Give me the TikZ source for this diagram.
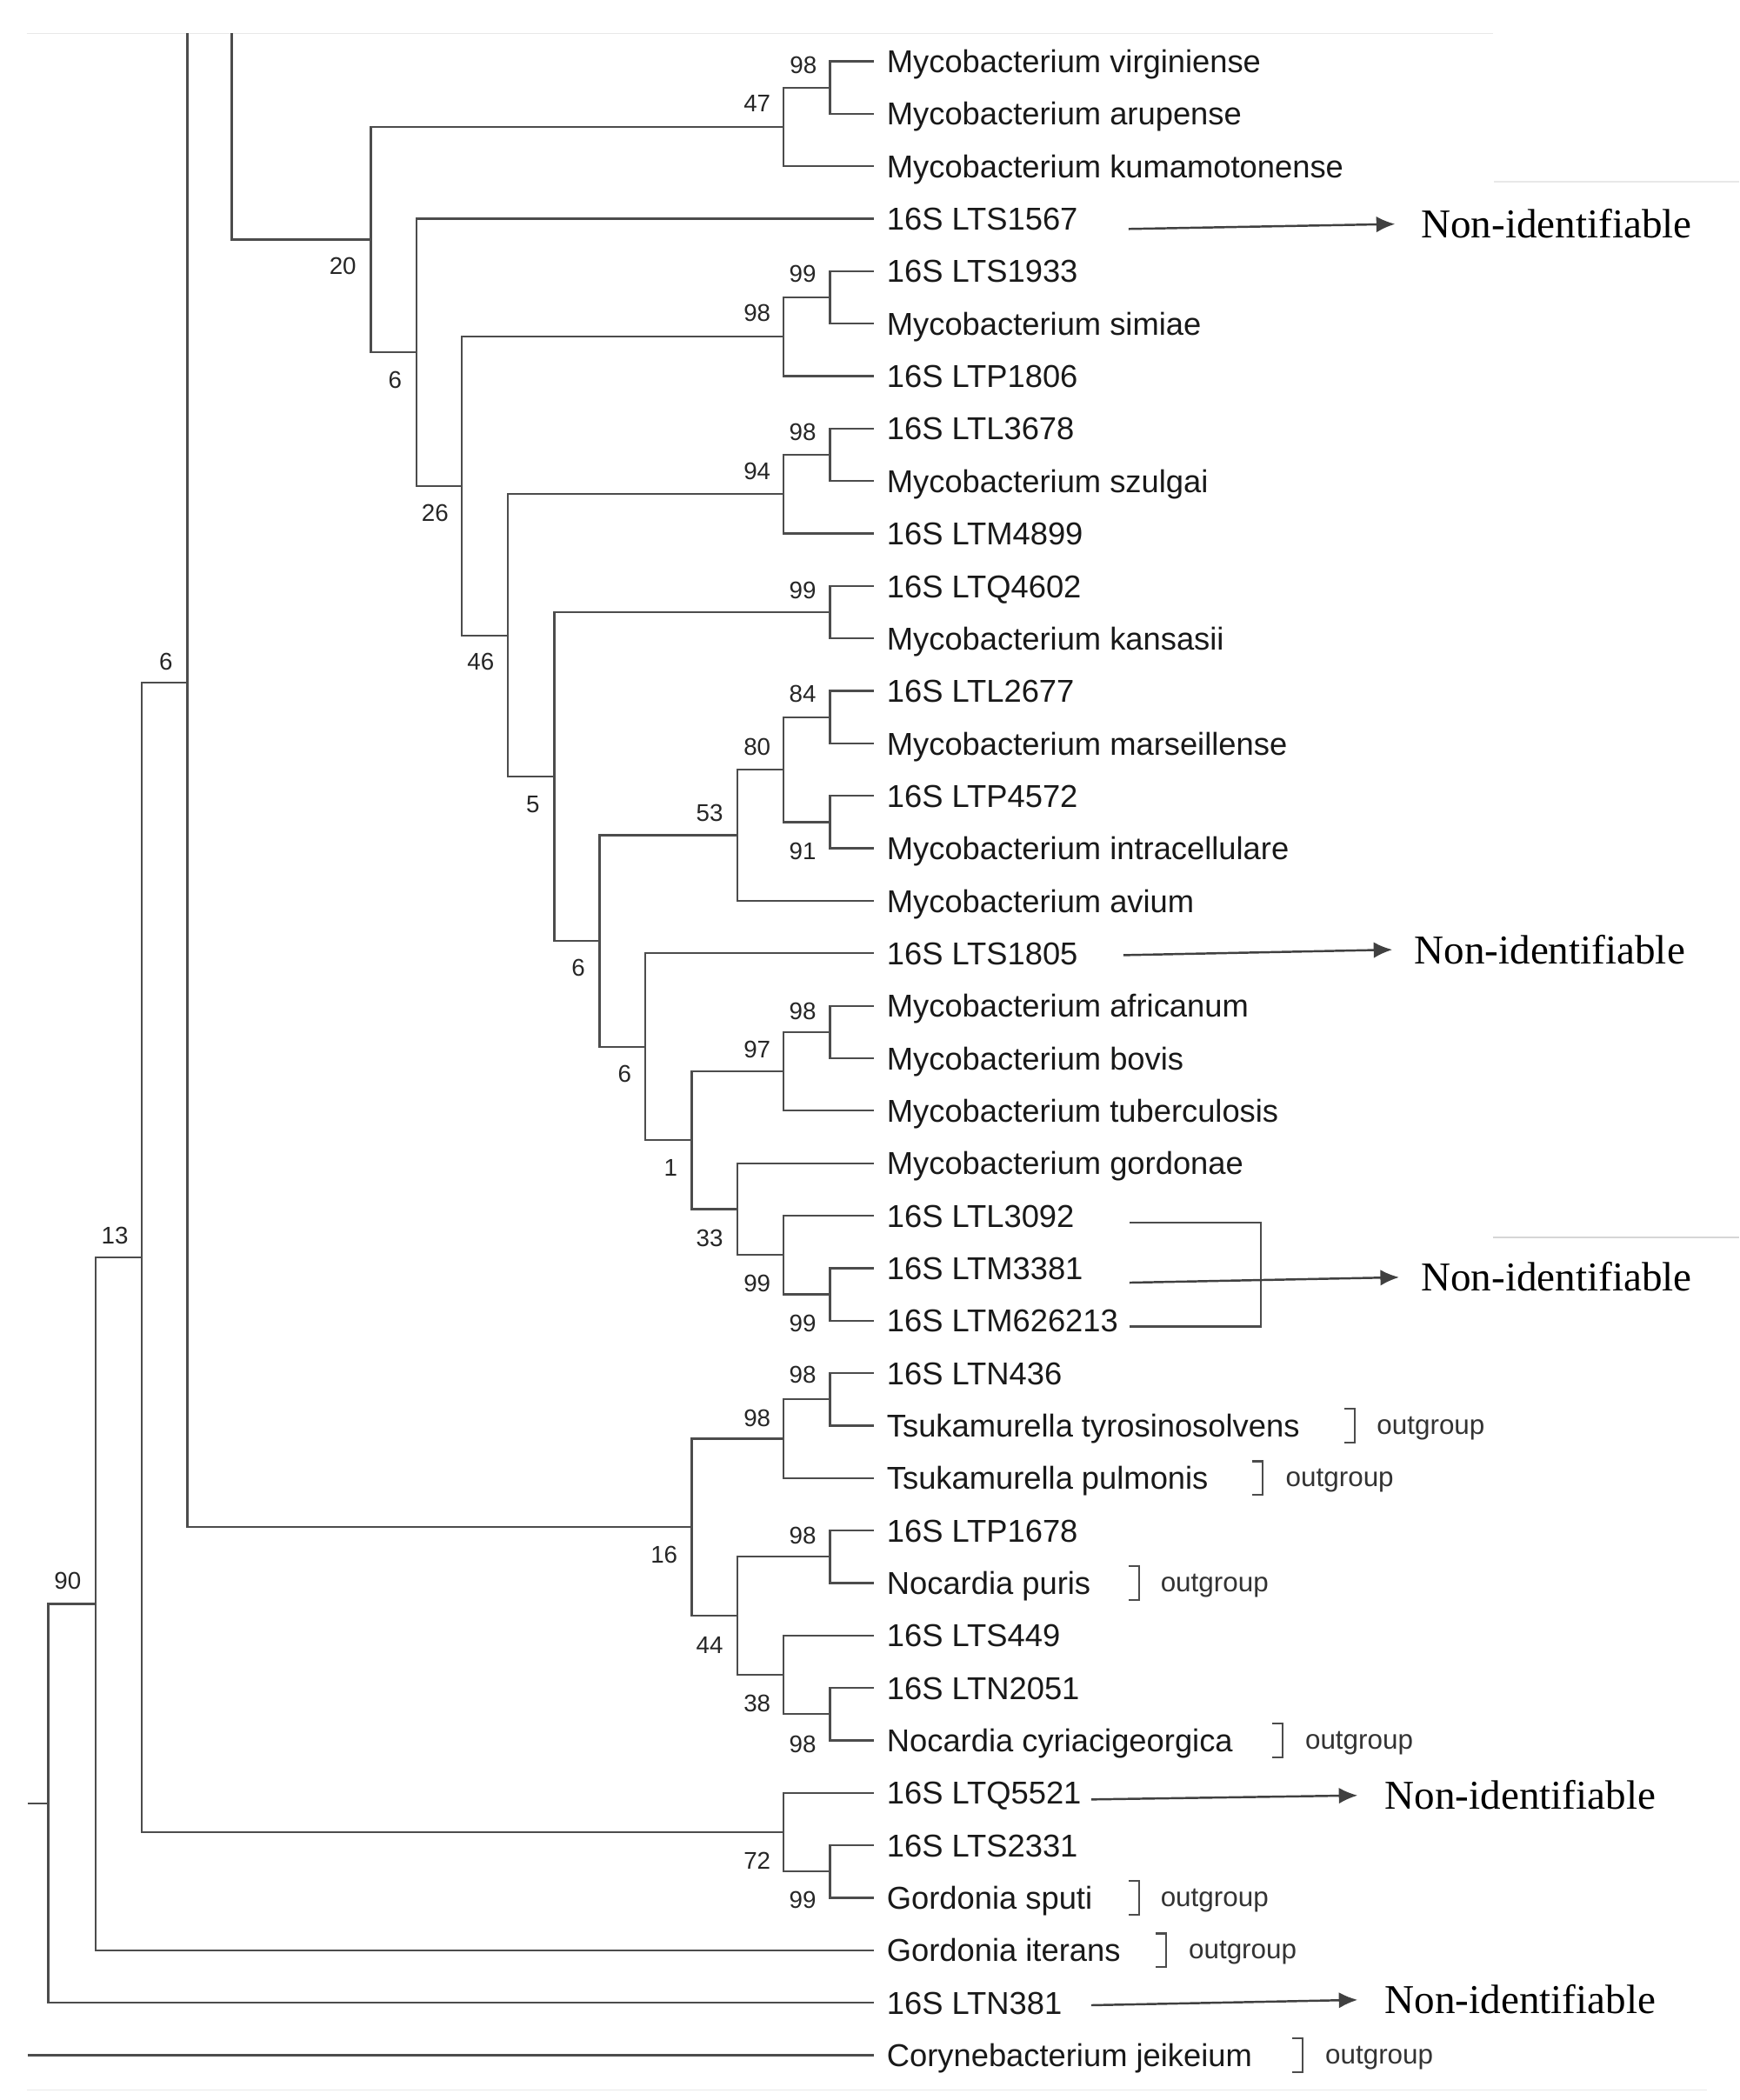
\documentclass[tikz,border=0pt]{standalone}
\usepackage{fontspec}
\setmainfont{Liberation Sans}
\newfontfamily\serifnon{Liberation Serif}
\usetikzlibrary{arrows.meta,calc}
\newcommand\mkclade[4]{%
  \coordinate (#1m) at ($(#3)!0.5!(#4)$);
  \coordinate (#1) at (#2,0 |- #1m);
  \draw[br] (#3) -| (#1) |- (#4);}
\newcommand\outg[3]{%
  \pgfmathsetmacro\yy{45.8+39.19*(#1-1)}
  \coordinate (ob#1a) at ({#2-8},{\yy-12.5});
  \coordinate (ob#1b) at (#2,{\yy-12.5});
  \coordinate (ob#1c) at (#2,{\yy+12.5});
  \coordinate (ob#1d) at ({#2-8},{\yy+12.5});
  \draw[bk] (ob#1a) -- (ob#1b) -- (ob#1c) -- (ob#1d);
  \node[og] (og#1) at (#3,{\yy+6.6}) {outgroup};}
\begin{document}
\begin{tikzpicture}[x=0.5pt,y=-0.5pt,
  br/.style={draw=black!70,line width=0.75pt},
  leaf/.style={anchor=base west,inner sep=0pt,font=\fontsize{11.8pt}{14pt}\selectfont,text=black!90},
  bs/.style={inner sep=0pt,font=\fontsize{9pt}{10pt}\selectfont,text=black!85},
  og/.style={anchor=base west,inner sep=0pt,font=\fontsize{10.2pt}{12pt}\selectfont,text=black!80},
  nid/.style={anchor=west,inner sep=0pt,font=\serifnon\fontsize{15.3pt}{18pt}\selectfont},
  arr/.style={draw=black!75,line width=0.8pt,-{Latex[length=7pt,width=6pt]}},
  bk/.style={draw=black!70,line width=0.7pt},
  faint/.style={draw=black!9,line width=0.6pt}
]
\useasboundingbox (0,0) rectangle (1299,1568.5);
\fill[white] (0,0) rectangle (1299,1568.5);
% faint screenshot edges
\coordinate (f1a) at (20,25); \coordinate (f1b) at (1115,25);
\draw[faint] (f1a) -- (f1b);
\coordinate (f2a) at (1116,136); \coordinate (f2b) at (1299,136);
\draw[faint] (f2a) -- (f2b);
\coordinate (f3a) at (1115,924); \coordinate (f3b) at (1299,924);
\draw[draw=black!16,line width=0.6pt] (f3a) -- (f3b);
\coordinate (f4a) at (20,1561); \coordinate (f4b) at (1275,1561);
\draw[faint] (f4a) -- (f4b);

% leaves
\foreach \i/\lab in {1/Mycobacterium virginiense,2/Mycobacterium arupense,3/Mycobacterium kumamotonense,4/16S LTS1567,5/16S LTS1933,6/Mycobacterium simiae,7/16S LTP1806,8/16S LTL3678,9/Mycobacterium szulgai,10/16S LTM4899,11/16S LTQ4602,12/Mycobacterium kansasii,13/16S LTL2677,14/Mycobacterium marseillense,15/16S LTP4572,16/Mycobacterium intracellulare,17/Mycobacterium avium,18/16S LTS1805,19/Mycobacterium africanum,20/Mycobacterium bovis,21/Mycobacterium tuberculosis,22/Mycobacterium gordonae,23/16S LTL3092,24/16S LTM3381,25/16S LTM626213,26/16S LTN436,27/Tsukamurella tyrosinosolvens,28/Tsukamurella pulmonis,29/16S LTP1678,30/Nocardia puris,31/16S LTS449,32/16S LTN2051,33/Nocardia cyriacigeorgica,34/16S LTQ5521,35/16S LTS2331,36/Gordonia sputi,37/Gordonia iterans,38/16S LTN381,39/Corynebacterium jeikeium}{
  \coordinate (t\i) at (652.8,{45.8+39.19*(\i-1)});
  \node[leaf] (L\i) at (662,{45.8+39.19*(\i-1)+8.5}) {\lab};
}

% clades
\mkclade{A98}{620}{t1}{t2}
\mkclade{A47}{585}{A98}{t3}
\mkclade{B99}{620}{t5}{t6}
\mkclade{B98}{585}{B99}{t7}
\mkclade{C98}{620}{t8}{t9}
\mkclade{C94}{585}{C98}{t10}
\mkclade{D99}{620}{t11}{t12}
\mkclade{E84}{620}{t13}{t14}
\mkclade{E91}{620}{t15}{t16}
\mkclade{E80}{585}{E84}{E91}
\mkclade{E53}{550.6}{E80}{t17}
\mkclade{F98}{620}{t19}{t20}
\mkclade{F97}{585}{F98}{t21}
\mkclade{G99b}{620}{t24}{t25}
\mkclade{G99}{585}{t23}{G99b}
\mkclade{G33}{550.6}{t22}{G99}
\mkclade{G1}{516.6}{F97}{G33}
\mkclade{G6}{481.8}{t18}{G1}
\mkclade{H6}{447.8}{E53}{G6}
\mkclade{H5}{414}{D99}{H6}
\mkclade{H46}{379.5}{C94}{H5}
\mkclade{H26}{345}{B98}{H46}
\mkclade{H6a}{311}{t4}{H26}
\mkclade{H20}{277}{A47}{H6a}
\mkclade{L98a}{620}{t26}{t27}
\mkclade{L98}{585}{L98a}{t28}
\mkclade{M98}{620}{t29}{t30}
\mkclade{M98b}{620}{t32}{t33}
\mkclade{M38}{585}{t31}{M98b}
\mkclade{M44}{550.6}{M98}{M38}
\mkclade{K16}{516.6}{L98}{M44}
\mkclade{N99}{620}{t35}{t36}
\mkclade{N72}{585}{t34}{N99}
% cut-off upper parts
\coordinate (T173top) at (173,25);
\draw[br] (T173top) |- (H20);
\coordinate (X140top) at (140,25);
\coordinate (X140) at (140,510);
\draw[br] (X140top) |- (K16);
\mkclade{P6}{106}{X140}{N72}
\mkclade{P13}{71.3}{P6}{t37}
\mkclade{P90}{36}{P13}{t38}
\coordinate (R) at (20.7,0 |- P90);
\draw[br] (R) -- (P90);
\coordinate (R2) at (20.7,0 |- t39);
\draw[br] (R2) -- (t39);

% bootstrap values
\node[bs] (bA98) at (600,49) {98};
\node[bs] (bA47) at (565.5,77) {47};
\node[bs] (bH20) at (256,199) {20};
\node[bs] (bH6a) at (295,284) {6};
\node[bs] (bB99) at (599.5,204.5) {99};
\node[bs] (bB98) at (565.5,234) {98};
\node[bs] (bH26) at (325,383) {26};
\node[bs] (bC98) at (599.5,323) {98};
\node[bs] (bC94) at (565.5,352) {94};
\node[bs] (bD99) at (599.5,441) {99};
\node[bs] (bH46) at (359,494) {46};
\node[bs] (bE84) at (599.5,518) {84};
\node[bs] (bE80) at (565.5,558) {80};
\node[bs] (bE53) at (530,607) {53};
\node[bs] (bE91) at (599.5,636) {91};
\node[bs] (bH5) at (398,601) {5};
\node[bs] (bH6) at (432,723) {6};
\node[bs] (bG6) at (466.5,802) {6};
\node[bs] (bG1) at (501,872.5) {1};
\node[bs] (bF98) at (599.5,755) {98};
\node[bs] (bF97) at (565.5,784) {97};
\node[bs] (bG33) at (530,924.6) {33};
\node[bs] (bG99) at (565.5,958.7) {99};
\node[bs] (bG99b) at (599.5,988.5) {99};
\node[bs] (bL98a) at (599.5,1027) {98};
\node[bs] (bL98) at (565.5,1059.5) {98};
\node[bs] (bK16) at (496,1161) {16};
\node[bs] (bM98) at (599.5,1147) {98};
\node[bs] (bM44) at (530,1229) {44};
\node[bs] (bM38) at (565.5,1272) {38};
\node[bs] (bM98b) at (599.5,1302.5) {98};
\node[bs] (bN72) at (565.5,1390) {72};
\node[bs] (bN99) at (599.5,1419) {99};
\node[bs] (bX140) at (124,494) {6};
\node[bs] (bP6) at (85.8,923) {13};
\node[bs] (bP13) at (50.5,1181) {90};

% Non-identifiable annotations
\node[nid] (N1) at (1061,167) {Non-identifiable};
\coordinate (a1) at (843,171);
\draw[arr,shorten >=9.5pt] (a1) -- (N1.west);
\node[nid] (N2) at (1056,709) {Non-identifiable};
\coordinate (a2) at (839,713.4);
\draw[arr,shorten >=8pt] (a2) -- (N2.west);
\node[nid] (N3) at (1061,953.7) {Non-identifiable};
\coordinate (b3a) at (843.6,913.2);
\coordinate (b3b) at (942,913.2);
\coordinate (b3c) at (942,990.8);
\coordinate (b3d) at (843.6,990.8);
\draw[bk] (b3a) -- (b3b) -- (b3c) -- (b3d);
\coordinate (a3) at (843.6,958);
\draw[arr,shorten >=8pt] (a3) -- (N3.west);
\node[nid] (N4) at (1034,1340.7) {Non-identifiable};
\coordinate (a4) at (815,1344);
\draw[arr,shorten >=10pt] (a4) -- (N4.west);
\node[nid] (N5) at (1034,1493.3) {Non-identifiable};
\coordinate (a5) at (815,1497.7);
\draw[arr,shorten >=10pt] (a5) -- (N5.west);

% outgroup brackets
\outg{27}{1012}{1028}
\outg{28}{943}{960}
\outg{30}{851}{866.5}
\outg{33}{958}{974.5}
\outg{36}{851}{866.5}
\outg{37}{871}{887.5}
\outg{39}{973}{989.5}
\end{tikzpicture}
\end{document}
